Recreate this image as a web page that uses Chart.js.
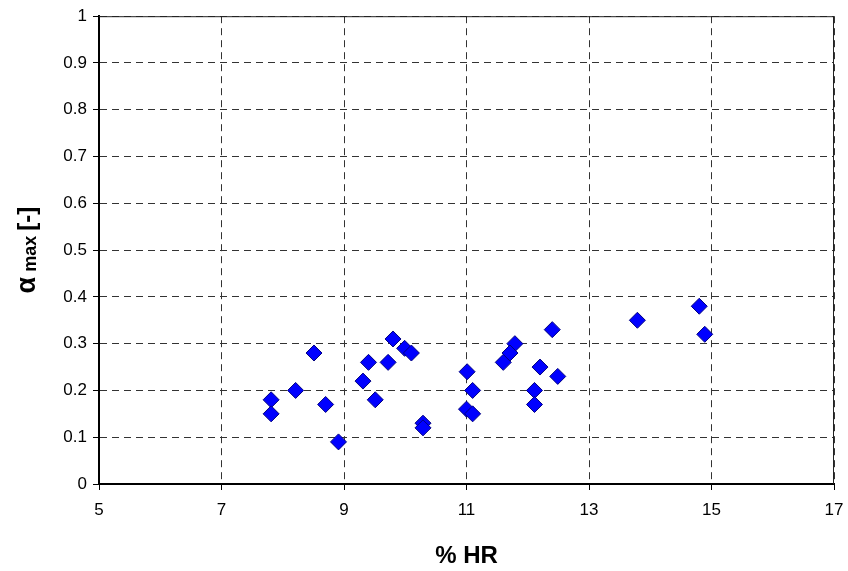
<!DOCTYPE html>
<html>
<head>
<meta charset="utf-8">
<script src="https://cdn.jsdelivr.net/npm/chart.js@4/dist/chart.umd.min.js"></script>
<style>
  html, body { margin: 0; padding: 0; background: #fff; }
  #wrap { width: 848px; height: 571px; position: relative; }
</style>
</head>
<body>
<div id="wrap"><canvas id="myChart"></canvas></div>
<script>
// % HR values (x) and alpha max values (y)
var hr = [7.81, 7.81, 8.21, 8.51, 8.70, 8.91, 9.31, 9.40, 9.51, 9.72,
          9.80, 9.99, 10.10, 10.29, 10.29, 11.01, 11.10, 11.00, 11.10, 12.40,
          13.79, 11.79, 11.71, 11.60, 12.20, 12.49, 12.11, 12.11, 14.80, 14.89];
var alphaMax = [0.18, 0.15, 0.20, 0.28, 0.17, 0.09, 0.22, 0.26, 0.18, 0.26,
                0.31, 0.29, 0.28, 0.13, 0.12, 0.24, 0.20, 0.16, 0.15, 0.33,
                0.35, 0.30, 0.28, 0.26, 0.25, 0.23, 0.20, 0.17, 0.38, 0.32];
var xTicks = [5, 7, 9, 11, 13, 15, 17];
var yTicks = [0, 0.1, 0.2, 0.3, 0.4, 0.5, 0.6, 0.7, 0.8, 0.9, 1];

var FONT = "'Liberation Sans', Arial, sans-serif";

var points = hr.map(function(v, i){ return {x: v, y: alphaMax[i]}; });

// frame on top/right of the plot area + y title with subscript
var framePlugin = {
    id: 'frame',
    beforeDatasetsDraw: function(chart){
        var a = chart.chartArea, c = chart.ctx;
        c.save();
        c.strokeStyle = '#222';
        c.lineWidth = 1;
        c.beginPath();
        c.moveTo(a.left, a.top + 0.5);
        c.lineTo(a.right - 0.5, a.top + 0.5);
        c.lineTo(a.right - 0.5, a.bottom);
        c.stroke();
        c.restore();
    },
    afterDraw: function(chart){
        var a = chart.chartArea, c = chart.ctx;
        var parts = [
            {t: 'α', f: 'bold 27px ' + FONT, dy: 0},
            {t: ' max ', f: 'bold 18px ' + FONT, dy: 3},
            {t: '[-]', f: 'bold 24px ' + FONT, dy: 0}
        ];
        c.save();
        var total = 0;
        parts.forEach(function(p){ c.font = p.f; p.w = c.measureText(p.t).width; total += p.w; });
        c.translate(28, (a.top + a.bottom) / 2);
        c.rotate(-Math.PI / 2);
        c.fillStyle = '#000';
        c.textBaseline = 'middle';
        var x = -total / 2;
        parts.forEach(function(p){
            c.font = p.f;
            c.fillText(p.t, x, p.dy);
            x += p.w;
        });
        c.restore();
    }
};

var ctx = document.getElementById("myChart");
var myChart = new Chart(ctx, {
    type: 'scatter',
    data: {
        datasets: [{
            data: points,
            pointStyle: 'rectRot',
            pointRadius: 8,
            pointHoverRadius: 8,
            backgroundColor: '#0000ff',
            borderColor: '#000080',
            borderWidth: 1
        }]
    },
    options: {
        responsive: true,
        maintainAspectRatio: false,
        animation: false,
        events: [],
        layout: { padding: { left: 0, right: 0, top: 15, bottom: 0 } },
        plugins: {
            legend: { display: false },
            tooltip: { enabled: false }
        },
        scales: {
            x: {
                type: 'linear',
                min: 5, max: 17,
                afterBuildTicks: function(s){ s.ticks = xTicks.map(function(v){ return {value: v}; }); },
                afterFit: function(s){ s.height = 87; s.paddingRight = 14; s.paddingLeft = 0; },
                ticks: { color: '#000', font: { family: FONT, size: 17 }, padding: 10, maxRotation: 0 },
                grid: { color: '#333', tickColor: '#000', tickLength: 6, tickBorderDash: [] },
                border: { display: true, color: '#000', width: 2, dash: [7, 5] },
                title: { display: true, text: '% HR', color: '#000', font: { family: FONT, size: 24, weight: 'bold' }, padding: { top: 0, bottom: 0 } }
            },
            y: {
                type: 'linear',
                min: 0, max: 1,
                afterBuildTicks: function(s){ s.ticks = yTicks.map(function(v){ return {value: v}; }); },
                afterFit: function(s){ s.width = 99; },
                ticks: { color: '#000', font: { family: FONT, size: 17 }, padding: 6,
                    callback: function(val){ return Math.round(val * 10) / 10; } },
                grid: { color: '#333', tickColor: '#000', tickLength: 6, tickBorderDash: [] },
                border: { display: true, color: '#000', width: 2, dash: [7, 5] }
            }
        }
    },
    plugins: [framePlugin]
});
</script>
</body>
</html>
